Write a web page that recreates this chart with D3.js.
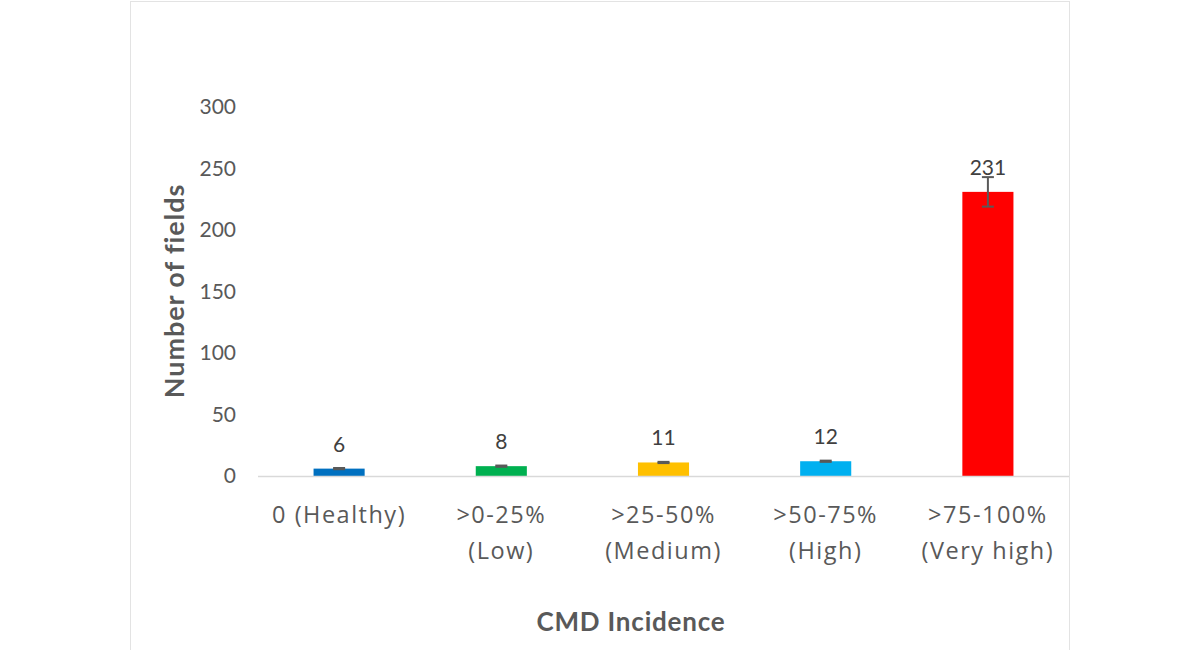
<!DOCTYPE html>
<html>
<head>
<meta charset="utf-8">
<script src="https://cdn.jsdelivr.net/npm/d3@7"></script>
<style>
  html, body { margin: 0; padding: 0; background: #fff; }
  svg { display: block; font-family: Lato, "Open Sans", sans-serif; }
</style>
</head>
<body>
<svg id="canvas" width="1200" height="650"></svg>
<script>
// data
const categories = ["0 (Healthy)", ">0-25% (Low)", ">25-50% (Medium)", ">50-75% (High)", ">75-100% (Very high)"];
const labelLines = [["0 (Healthy)"], [">0-25%", "(Low)"], [">25-50%", "(Medium)"], [">50-75%", "(High)"], [">75-100%", "(Very high)"]];
const counts = [6, 8, 11, 12, 231];
const errors = [0.5, 0.5, 0.5, 0.5, 12];
const colors = ["#0070C0", "#00B050", "#FFC000", "#00B0F0", "#FF0000"];
const yTicks = [0, 50, 100, 150, 200, 250, 300];

(function (d3) {
    const svg = d3.select('#canvas');
    const left = 258, right = 1069, top = 107, bottom = 476;

    // frame around the chart
    svg.append('rect')
        .attr('x', 130.5).attr('y', 1.5)
        .attr('width', 939).attr('height', 660)
        .attr('fill', 'none').attr('stroke', '#e3e3e3').attr('stroke-width', 1);

    let x = d3.scaleBand().domain(categories).range([left, right])
        .paddingInner(0.685).paddingOuter(0.3425);
    let y = d3.scaleLinear().domain([0, 300]).range([bottom, top]);

    // y tick labels (no axis line in original)
    svg.append('g').selectAll('text')
        .data(yTicks)
        .enter().append('text')
        .attr('x', 236)
        .attr('y', d => y(d))
        .attr('dy', '0.35em')
        .attr('text-anchor', 'end')
        .attr('font-size', 21)
        .attr('fill', '#595959')
        .text(d => d);

    // bars
    svg.append('g').selectAll('rect')
        .data(counts)
        .enter().append('rect')
        .attr('x', (d, i) => x(categories[i]))
        .attr('y', d => y(d))
        .attr('width', x.bandwidth())
        .attr('height', d => y(0) - y(d))
        .attr('fill', (d, i) => colors[i]);

    // baseline
    svg.append('line')
        .attr('x1', left).attr('x2', right)
        .attr('y1', y(0) + 0.5).attr('y2', y(0) + 0.5)
        .attr('stroke', '#d9d9d9').attr('stroke-width', 1.5);

    // error bars
    let eb = svg.append('g').attr('stroke', '#595959').attr('stroke-width', 2);
    counts.forEach((d, i) => {
        let cx = x(categories[i]) + x.bandwidth() / 2;
        let y1 = y(d + errors[i]), y2 = y(d - errors[i]);
        eb.append('line').attr('x1', cx).attr('x2', cx).attr('y1', y1).attr('y2', y2);
        eb.append('line').attr('x1', cx - 6).attr('x2', cx + 6).attr('y1', y1).attr('y2', y1);
        eb.append('line').attr('x1', cx - 6).attr('x2', cx + 6).attr('y1', y2).attr('y2', y2);
    });

    // value labels
    svg.append('g').selectAll('text')
        .data(counts)
        .enter().append('text')
        .attr('x', (d, i) => x(categories[i]) + x.bandwidth() / 2)
        .attr('y', d => y(d) - 17)
        .attr('text-anchor', 'middle')
        .attr('font-size', 21)
        .attr('fill', '#404040')
        .text(d => d);

    // category labels
    let xl = svg.append('g').selectAll('text')
        .data(labelLines)
        .enter().append('text')
        .attr('x', (d, i) => x(categories[i]) + x.bandwidth() / 2)
        .attr('y', 523)
        .attr('text-anchor', 'middle')
        .attr('font-family', '"Open Sans", sans-serif')
        .attr('font-size', 23.5)
        .attr('letter-spacing', 1.5)
        .attr('fill', '#595959');
    xl.selectAll('tspan')
        .data(d => d)
        .enter().append('tspan')
        .attr('x', function () { return d3.select(this.parentNode).attr('x'); })
        .attr('dy', (d, i) => i === 0 ? 0 : 36)
        .text(d => d);

    // axis titles
    svg.append('text')
        .attr('x', 631).attr('y', 631)
        .attr('text-anchor', 'middle')
        .attr('font-size', 26).attr('font-weight', 'bold')
        .attr('letter-spacing', 0.8)
        .attr('fill', '#595959')
        .text('CMD Incidence');

    svg.append('text')
        .attr('transform', 'translate(184,291) rotate(-90)')
        .attr('text-anchor', 'middle')
        .attr('font-size', 27).attr('font-weight', 'bold')
        .attr('letter-spacing', 0.9)
        .attr('fill', '#595959')
        .text('Number of fields');
})(d3)
</script>
</body>
</html>
